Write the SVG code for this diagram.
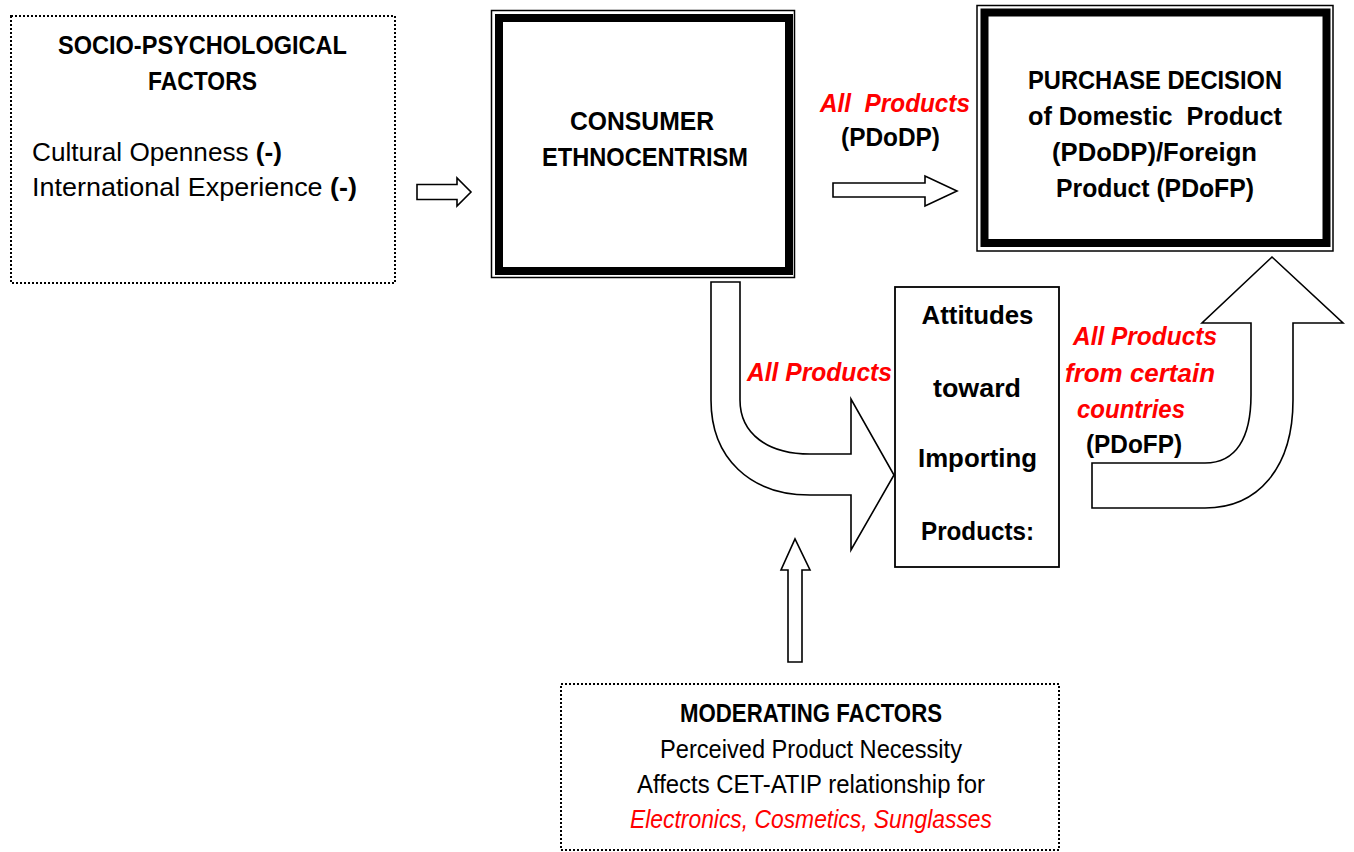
<svg xmlns="http://www.w3.org/2000/svg" width="1354" height="852" viewBox="0 0 1354 852">
<style>
text{font-family:"Liberation Sans",Arial,sans-serif;fill:#000}
.b{font-weight:bold;font-size:25px}
.r{font-size:26px}
.red{fill:#ff0000;font-style:italic;font-weight:bold;font-size:25px}
.redr{fill:#ff0000;font-style:italic;font-size:26px}
.c{text-anchor:middle}
.dot{fill:#fff;stroke:#000;stroke-width:2;stroke-dasharray:2 2}
.thin{fill:none;stroke:#000;stroke-width:1.5}
.thick{fill:#fff;stroke:#000;stroke-width:8}
.arr{fill:#fff;stroke:#000;stroke-width:1.6;stroke-linejoin:miter}
</style>
<rect width="1354" height="852" fill="#fff"/>

<g id="socio">
<rect class="dot" x="11" y="16" width="384" height="267"/>
<text class="b c" x="202.5" y="54" textLength="289" lengthAdjust="spacingAndGlyphs">SOCIO-PSYCHOLOGICAL</text>
<text class="b c" x="202.5" y="90" textLength="109" lengthAdjust="spacingAndGlyphs">FACTORS</text>
<text class="r" x="32" y="161" textLength="250" lengthAdjust="spacingAndGlyphs">Cultural Openness <tspan font-weight="bold">(-)</tspan></text>
<text class="r" x="32" y="196" textLength="325" lengthAdjust="spacingAndGlyphs">International Experience <tspan font-weight="bold">(-)</tspan></text>
</g>

<g id="consumer">
<rect class="thin" x="491.5" y="10.5" width="303" height="267"/>
<rect class="thick" x="499" y="18" width="290" height="253"/>
<text class="b c" x="642" y="130" textLength="144" lengthAdjust="spacingAndGlyphs">CONSUMER</text>
<text class="b c" x="645" y="165.5" textLength="206" lengthAdjust="spacingAndGlyphs">ETHNOCENTRISM</text>
</g>

<g id="purchase">
<rect class="thin" x="977" y="5.5" width="356" height="245.5"/>
<rect class="thick" x="984.5" y="12.5" width="342" height="230.5"/>
<text class="b c" x="1155" y="89" textLength="254" lengthAdjust="spacingAndGlyphs">PURCHASE DECISION</text>
<text class="b c" x="1155" y="125" textLength="254" lengthAdjust="spacingAndGlyphs" xml:space="preserve">of Domestic  Product</text>
<text class="b c" x="1154.5" y="161" textLength="205" lengthAdjust="spacingAndGlyphs">(PDoDP)/Foreign</text>
<text class="b c" x="1155" y="197" textLength="198" lengthAdjust="spacingAndGlyphs">Product (PDoFP)</text>
</g>

<g id="attitudes">
<rect x="895" y="287" width="164" height="280" fill="#fff" stroke="#000" stroke-width="1.8"/>
<text class="b c" x="977.5" y="324" textLength="112" lengthAdjust="spacingAndGlyphs">Attitudes</text>
<text class="b c" x="977" y="397" textLength="88" lengthAdjust="spacingAndGlyphs">toward</text>
<text class="b c" x="977.5" y="467" textLength="119" lengthAdjust="spacingAndGlyphs">Importing</text>
<text class="b c" x="977.5" y="540" textLength="113" lengthAdjust="spacingAndGlyphs">Products:</text>
</g>

<g id="moderating">
<rect class="dot" x="561" y="684" width="498" height="166"/>
<text class="b c" x="811" y="722" textLength="262" lengthAdjust="spacingAndGlyphs">MODERATING FACTORS</text>
<text class="r c" x="811" y="758" textLength="302" lengthAdjust="spacingAndGlyphs">Perceived Product Necessity</text>
<text class="r c" x="811" y="793" textLength="348" lengthAdjust="spacingAndGlyphs">Affects CET-ATIP relationship for</text>
<text class="redr c" x="811" y="828" textLength="362" lengthAdjust="spacingAndGlyphs">Electronics, Cosmetics, Sunglasses</text>
</g>

<g id="connectors">
<path class="arr" d="M417,184.5 L457,184.5 L457,178 L471,192 L457,206 L457,199.5 L417,199.5 Z"/>
<path class="arr" d="M833,183 L925,183 L925,176 L957,191 L925,206 L925,197 L833,197 Z"/>
<path class="arr" d="M711,282 L740,282 L740,400 C740,434 768,454 810,454 L851,454 L851,399 L894,475 L851,550 L851,495 L810,495 C750,495 711,458 711,400 Z"/>
<path class="arr" d="M788,662 L788,570 L781,570 L795,539 L810,570 L802,570 L802,662 Z"/>
<path class="arr" d="M1092,463 L1205,463 C1236,463 1251,438 1251,395 L1251,323 L1202,323 L1272,257 L1343,323 L1293,323 L1293,400 C1293,468 1258,508 1205,508 L1092,508 Z"/>
<text class="red" x="820" y="112" textLength="150" lengthAdjust="spacingAndGlyphs" xml:space="preserve">All  Products</text>
<text class="b c" x="890.5" y="146" textLength="99" lengthAdjust="spacingAndGlyphs">(PDoDP)</text>
<text class="red" x="747" y="381" textLength="145" lengthAdjust="spacingAndGlyphs">All Products</text>
<text class="red" x="1073" y="345" textLength="144" lengthAdjust="spacingAndGlyphs">All Products</text>
<text class="red" x="1065" y="382" textLength="150" lengthAdjust="spacingAndGlyphs">from certain</text>
<text class="red" x="1077" y="418" textLength="108" lengthAdjust="spacingAndGlyphs">countries</text>
<text class="b" x="1086" y="453" textLength="96" lengthAdjust="spacingAndGlyphs">(PDoFP)</text>
</g>
</svg>
